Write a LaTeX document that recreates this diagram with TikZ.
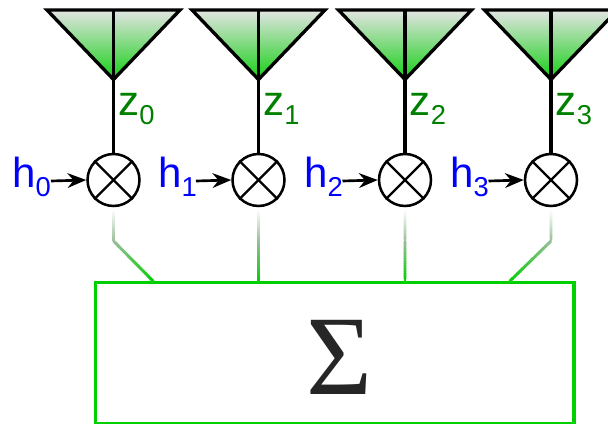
\documentclass[tikz,border=0pt]{standalone}
\usepackage{fontspec}
\setmainfont{Liberation Sans}
\newfontfamily\sigmafont{Liberation Serif}
\usetikzlibrary{arrows.meta,calc}
\definecolor{boxgreen}{RGB}{0,208,0}
\definecolor{labgreen}{RGB}{0,128,0}
\definecolor{labblue}{RGB}{0,0,255}
\definecolor{fadetop}{RGB}{228,228,228}
\definecolor{antmid}{RGB}{115,192,115}
\definecolor{antgreen}{RGB}{20,208,20}
\definecolor{fademid}{RGB}{150,190,150}
\tikzset{
  wire/.style={line width=2.3pt,black},
  antenna/.style={line width=2.5pt,black,line join=miter},
  mixer/.style={circle,draw=black,line width=1.9pt,minimum size=39pt,inner sep=0pt,fill=white},
  xline/.style={line width=1.7pt,black},
  labh/.style={anchor=base west,inner sep=0pt,text=labblue,font=\fontsize{31.5}{33}\selectfont},
  labz/.style={anchor=base west,inner sep=0pt,text=labgreen,font=\fontsize{31.5}{33}\selectfont},
  feed/.style={line width=2pt,-{Stealth[length=14pt,width=11pt,inset=4.5pt]}},
  fade/.style={line width=2.2pt},
}
\newcommand{\subnum}[1]{\raisebox{-6.4pt}{\fontsize{20.5}{22}\selectfont #1}}
\begin{document}
\begin{tikzpicture}[x=0.75pt,y=-0.75pt]
\useasboundingbox (0,0) rectangle (608,424);
\clip (0,0) rectangle (608,424);
\node[draw=boxgreen,line width=2.5pt,minimum width=359pt,minimum height=105.5pt,inner sep=0pt,anchor=north west] (sum) at (93.5,281) {};
\node[inner sep=0pt,text=black!85] (sigma) at (339.5,357.5) {\sigmafont\fontsize{85}{90}\selectfont Σ};
\foreach \i/\x/\hx/\zend in {0/113.5/12/153,1/258.5/158/258.5,2/405/304/405,3/551/450/510}{
  \coordinate (tl\i) at (\x-66.5,10);
  \coordinate (tr\i) at (\x+66.5,10);
  \coordinate (tc\i) at (\x,10);
  \coordinate (ap\i) at (\x,79.5);
  \shade[top color=fadetop,middle color=antmid,bottom color=antgreen] (tl\i) -- (tr\i) -- (ap\i) -- cycle;
  \draw[antenna] (tl\i) -- (tr\i) -- (ap\i) -- cycle;
  \draw[wire] (tc\i) -- (ap\i);
  \node[mixer] (m\i) at (\x,180) {};
  \draw[wire] (ap\i) -- (m\i.north);
  \draw[xline] (m\i.north west) -- (m\i.south east);
  \draw[xline] (m\i.north east) -- (m\i.south west);
  \node[labz] (z\i) at (\x+4.5,116) {z\subnum{\i}};
  \node[labh] (h\i) at (\hx,188) {h\subnum{\i}};
  \coordinate (hs\i) at (\x-62.5,181);
  \draw[feed] (hs\i) -- (m\i.west);
  \coordinate (ms\i) at ($(m\i.south)+(0,2)$);
  \coordinate (kn\i) at (\x,241);
  \coordinate (en\i) at (\zend,281);
  \foreach \t in {0,...,15}{
    \pgfmathsetmacro{\pa}{\t/16}
    \pgfmathsetmacro{\pb}{(\t+1.15)/16}
    \pgfmathsetmacro{\mixa}{100*\pa}
    \draw[fade,color=fademid!\mixa!white] ($(ms\i)!\pa!(kn\i)$) -- ($(ms\i)!\pb!(kn\i)$);
    \draw[fade,color=boxgreen!\mixa!fademid] ($(kn\i)!\pa!(en\i)$) -- ($(kn\i)!\pb!(en\i)$);
  }
}
\end{tikzpicture}
\end{document}
